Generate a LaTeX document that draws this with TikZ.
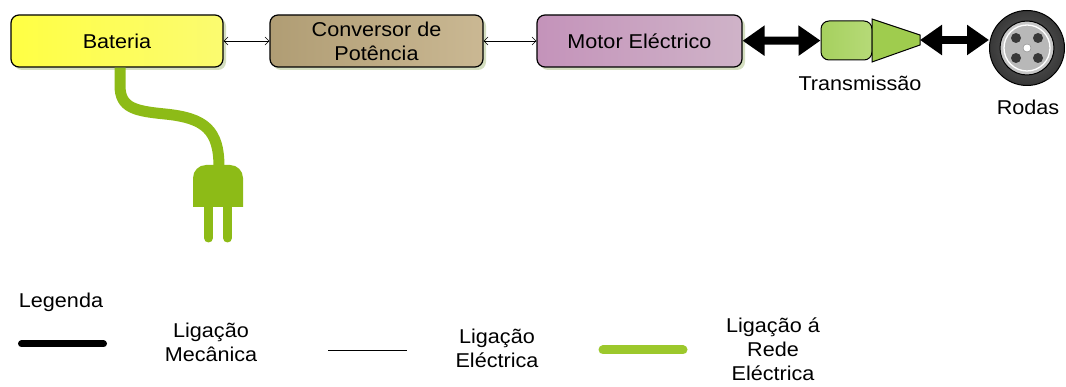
\documentclass[tikz,border=0pt]{standalone}
\usepackage{fontspec}
\setmainfont[FakeStretch=1.08]{Liberation Sans}
\usetikzlibrary{arrows.meta,shadows}
\definecolor{batleft}{HTML}{FFFF44}
\definecolor{batright}{HTML}{FBFB70}
\definecolor{convleft}{HTML}{B09D74}
\definecolor{convright}{HTML}{CAB893}
\definecolor{motleft}{HTML}{C493BA}
\definecolor{motright}{HTML}{CFB3C8}
\definecolor{gearleft}{HTML}{A6D05E}
\definecolor{gearright}{HTML}{B6DA78}
\definecolor{conecol}{HTML}{9FCC4E}
\definecolor{plugreen}{HTML}{8DBB17}
\definecolor{legreen}{HTML}{9CC82C}
\definecolor{shadowcol}{HTML}{C9D6B0}
\begin{document}
\begin{tikzpicture}
			[x=1pt,y=-1pt,
			font=\fontsize{20}{24}\selectfont,
			every node/.style={align=center},
			block/.style={draw,line width=1.2pt,rounded corners=8pt,minimum height=52pt,inner sep=2pt,
				drop shadow={shadow xshift=3pt,shadow yshift=-3pt,fill=shadowcol,opacity=0.8}},
			elec/.style={{Straight Barb[length=4pt,width=8pt]}-{Straight Barb[length=4pt,width=8pt]},line width=0.6pt},
			mech/.style={{Triangle[length=22pt,width=29pt]}-{Triangle[length=22pt,width=29pt]},line width=8pt},
			cable/.style={draw=plugreen,line width=11pt}]
			\useasboundingbox (0,0) rectangle (1066,387);
			% blocos
			\node[block,left color=batleft,right color=batright,minimum width=212pt] (bat) at (117,41) {Bateria};
			\node[block,left color=convleft,right color=convright,minimum width=213pt] (conv) at (376.5,41) {Conversor de\\Potência};
			\node[block,left color=motleft,right color=motright,minimum width=205pt] (motor) at (639.5,41) {Motor Eléctrico};
			% transmissao
			\node[draw,line width=1pt,rounded corners=8pt,left color=gearleft,right color=gearright,
				minimum width=51pt,minimum height=39pt] (gear) at (846.5,40.5) {};
			\draw[line width=1pt,fill=conecol] (872,19) -- (920,35) -- (920,45) -- (872,62) -- cycle;
			\coordinate (cone) at (920,40);
			\node (translabel) at (860,83) {Transmissão};
			% roda
			\node[circle,draw,line width=1pt,inner color=black!62,outer color=black!78,minimum size=75pt] (wheel) at (1027,48) {};
			\draw[line width=1pt,fill=black!22] (wheel.center) circle (27);
			\draw[white,line width=1.3pt,fill=black!28] (wheel.center) circle (23);
			\foreach \dx/\dy in {-11/-10,11/-10,-11/10,11/10}
				\fill[black!78] ([shift={(\dx,\dy)}]wheel.center) circle (5);
			\draw[black!50,fill=white] (wheel.center) circle (4);
			\node (wheellabel) at (1028,107) {Rodas};
			% ficha
			\coordinate (plug) at (219,167);
			\draw[cable] ([xshift=3pt]bat.south) -- ++(0,18) .. controls (120,108) and (135,111) .. (165,114) .. controls (205,118) and (219,130) .. (plug);
			\fill[plugreen] (193,207) [rounded corners=13pt] -- (193,165) -- (243,165) [sharp corners] -- (243,207) -- cycle;
			\draw[plugreen,line width=9pt,line cap=round] (208.5,204) -- (208.5,238) (227.5,204) -- (227.5,238);
			% ligacoes
			\path[elec]
			(bat) edge (conv)
			(conv) edge (motor);
			\path[mech]
			(motor) edge (gear)
			(cone) edge (wheel.west |- cone);
			% legenda
			\node (legtitle) at (61,302) {Legenda};
			\draw[line width=7pt,line cap=round] (21.5,344) -- (103.5,344);
			\node (legmech) at (211,342) {Ligação\\Mecânica};
			\draw[line width=0.8pt] (328,350) -- (407,350);
			\node (legelec) at (497,348) {Ligação\\Eléctrica};
			\draw[legreen,line width=9pt,line cap=round] (603,350) -- (683,350);
			\node (leggrid) at (773,349) {Ligação á\\Rede\\Eléctrica};
		\end{tikzpicture}
\end{document}
